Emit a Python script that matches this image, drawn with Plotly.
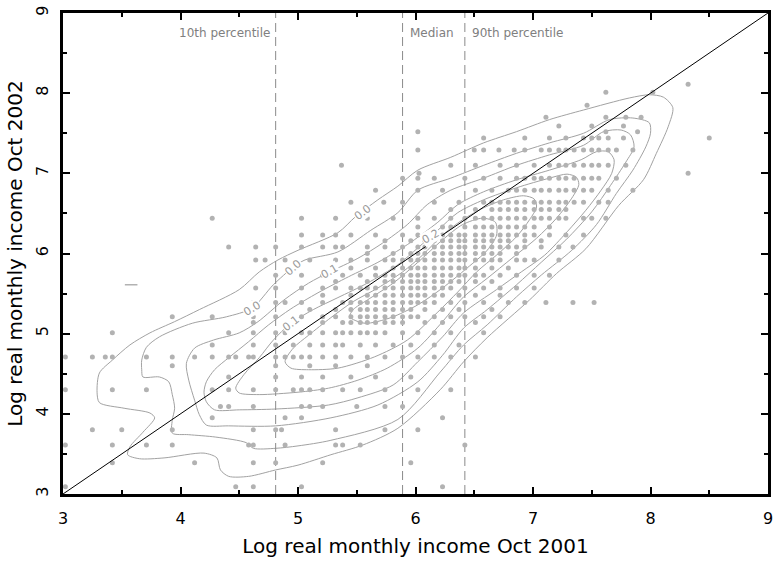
import plotly.graph_objects as go

# ---------------- data ----------------
percentile_names = ["10th percentile", "Median", "90th percentile"]
percentile_x = [4.81, 5.89, 6.42]

# scatter points: one x-list per income row (y value)
row_y = [3.09, 3.39, 3.61, 3.80, 3.95, 4.09, 4.30, 4.46, 4.60, 4.71, 4.86, 5.01, 5.14, 5.21,
         5.30, 5.39, 5.48, 5.57, 5.65, 5.73, 5.82, 5.92, 6.00, 6.08, 6.16, 6.23, 6.33, 6.44,
         6.55, 6.64, 6.79, 6.94, 7.00, 7.10, 7.29, 7.44, 7.52, 7.59, 7.70, 7.85, 8.01, 8.11]
row_x = [
    [3.02, 4.47, 4.62, 5.03, 6.23],
    [3.42, 4.12, 4.62, 4.81, 5.21, 5.96],
    [3.02, 3.42, 3.71, 3.93, 4.58, 4.62, 4.89, 5.32, 5.38, 5.53, 6.42],
    [3.25, 3.50, 3.93, 4.62, 4.81, 4.86, 5.32, 5.74, 6.02],
    [4.27, 4.89, 5.03, 6.23],
    [4.34, 4.41, 4.62, 5.03, 5.10, 5.21, 5.50, 5.74, 5.89],
    [3.02, 3.42, 3.71, 4.27, 4.41, 4.62, 4.81, 4.96, 5.03, 5.10, 5.21, 5.38, 5.53, 5.74, 6.02, 6.30],
    [4.41, 4.81, 5.03, 5.21, 5.45, 5.66, 5.96],
    [3.93, 4.81, 5.10, 5.32, 5.59],
    [3.02, 3.25, 3.36, 3.42, 3.71, 3.93, 4.12, 4.27, 4.41, 4.47, 4.58, 4.62, 4.81, 4.89, 4.96, 5.03,
     5.10, 5.21, 5.32, 5.45, 5.59, 5.74, 5.89, 6.02, 6.16, 6.30, 6.51],
    [4.27, 4.62, 4.81, 4.96, 5.10, 5.21, 5.32, 5.38, 5.53, 5.66, 5.81, 5.96, 6.16, 6.37],
    [3.42, 4.41, 4.62, 4.81, 4.89, 5.03, 5.10, 5.21, 5.32, 5.38, 5.45, 5.53, 5.59, 5.66, 5.74, 5.89,
     6.02, 6.16, 6.30, 6.58],
    [4.62, 4.96, 5.21, 5.38, 5.45, 5.53, 5.59, 5.66, 5.74, 5.81, 5.89, 6.08, 6.23, 6.51],
    [3.93, 4.27, 4.62, 4.81, 5.03, 5.21, 5.32, 5.45, 5.53, 5.59, 5.66, 5.74, 5.81, 5.89, 5.96, 6.02,
     6.16, 6.30, 6.42, 6.58, 6.72],
    [5.10, 5.32, 5.45, 5.53, 5.59, 5.66, 5.74, 5.81, 5.89, 5.96, 6.08, 6.23, 6.37, 6.65],
    [4.62, 4.81, 4.89, 5.03, 5.21, 5.38, 5.45, 5.53, 5.59, 5.66, 5.74, 5.81, 5.89, 5.96, 6.02, 6.08,
     6.16, 6.30, 6.42, 6.58, 6.79, 6.93, 7.11, 7.34, 7.52],
    [5.21, 5.45, 5.59, 5.66, 5.74, 5.81, 5.89, 5.96, 6.02, 6.08, 6.16, 6.23, 6.37, 6.51, 6.72],
    [4.64, 4.81, 5.03, 5.21, 5.32, 5.45, 5.53, 5.59, 5.66, 5.74, 5.81, 5.89, 5.96, 6.02, 6.08, 6.16,
     6.23, 6.30, 6.42, 6.58, 6.72, 6.86, 7.01],
    [5.32, 5.59, 5.74, 5.81, 5.89, 5.96, 6.02, 6.08, 6.16, 6.23, 6.30, 6.37, 6.51, 6.65],
    [4.81, 5.03, 5.21, 5.38, 5.53, 5.66, 5.74, 5.81, 5.89, 5.96, 6.02, 6.08, 6.16, 6.23, 6.30, 6.37,
     6.42, 6.51, 6.58, 6.72, 6.86, 7.01, 7.14],
    [5.45, 5.66, 5.81, 5.89, 5.96, 6.02, 6.08, 6.16, 6.23, 6.30, 6.37, 6.42, 6.51, 6.65, 6.79],
    [4.64, 4.72, 4.89, 5.10, 5.32, 5.45, 5.59, 5.74, 5.81, 5.89, 5.96, 6.02, 6.08, 6.16, 6.23, 6.30,
     6.37, 6.42, 6.51, 6.58, 6.65, 6.72, 6.86, 6.93, 7.01, 7.22],
    [5.59, 5.81, 5.96, 6.02, 6.08, 6.16, 6.23, 6.30, 6.37, 6.42, 6.51, 6.58, 6.65, 6.72, 6.86],
    [4.41, 4.64, 4.81, 5.03, 5.21, 5.32, 5.38, 5.59, 5.74, 5.89, 6.02, 6.08, 6.16, 6.23, 6.30, 6.37,
     6.42, 6.51, 6.58, 6.65, 6.72, 6.79, 6.86, 6.93, 7.07, 7.22, 7.34],
    [5.74, 5.96, 6.08, 6.16, 6.23, 6.30, 6.37, 6.42, 6.51, 6.58, 6.65, 6.72, 6.79, 6.93, 7.07],
    [5.03, 5.21, 5.32, 5.45, 5.66, 5.89, 6.02, 6.16, 6.23, 6.30, 6.37, 6.42, 6.51, 6.58, 6.65, 6.72,
     6.79, 6.86, 6.93, 7.01, 7.14, 7.28, 7.43],
    [6.02, 6.23, 6.30, 6.42, 6.51, 6.58, 6.65, 6.72, 6.79, 6.86, 6.93, 7.01, 7.14],
    [4.27, 5.03, 5.32, 5.59, 5.81, 6.02, 6.16, 6.30, 6.42, 6.51, 6.58, 6.65, 6.72, 6.79, 6.86, 6.93,
     7.01, 7.07, 7.14, 7.22, 7.28, 7.43, 7.50, 7.62],
    [6.30, 6.51, 6.65, 6.72, 6.79, 6.86, 6.93, 7.01, 7.07, 7.14, 7.22, 7.28],
    [5.45, 5.73, 5.89, 6.16, 6.37, 6.58, 6.65, 6.72, 6.79, 6.86, 6.93, 7.01, 7.07, 7.14, 7.22, 7.28,
     7.35, 7.43, 7.56, 7.64],
    [5.66, 6.02, 6.23, 6.51, 6.65, 6.79, 6.86, 6.93, 7.01, 7.07, 7.14, 7.22, 7.28, 7.35, 7.43, 7.50,
     7.64, 7.85],
    [5.89, 6.02, 6.16, 6.42, 6.58, 6.72, 6.86, 6.93, 7.01, 7.07, 7.14, 7.22, 7.28, 7.35, 7.43, 7.50,
     7.56, 7.71],
    [6.03, 8.32],
    [5.37, 6.30, 6.51, 6.72, 6.86, 7.01, 7.14, 7.22, 7.28, 7.35, 7.43, 7.50, 7.56, 7.64, 7.79],
    [6.02, 6.50, 6.58, 6.71, 6.84, 6.93, 7.07, 7.14, 7.22, 7.28, 7.35, 7.43, 7.50, 7.56, 7.64, 7.71,
     7.85],
    [6.58, 6.93, 7.14, 7.28, 7.43, 7.50, 7.56, 7.64, 7.77, 8.50],
    [6.02, 7.62, 7.89],
    [7.22, 7.50, 7.77],
    [7.11, 7.62, 7.79, 7.92],
    [7.46],
    [7.62, 8.02],
    [8.32],
]
dash_mark_x = [3.58]
dash_mark_y = [5.61]

# density contour lines (outermost first), closed paths
contour_x = [
    [3.29, 3.31, 3.52, 3.74, 3.78, 3.68, 3.57, 3.55, 3.65, 3.86, 4.20, 4.31, 4.34, 4.41, 4.58, 4.81,
     5.00, 5.28, 5.55, 5.85, 6.21, 6.41, 6.61, 6.97, 7.20, 7.45, 7.73, 7.94, 8.05, 8.15, 8.19, 8.11,
     7.99, 7.82, 7.43, 7.14, 6.86, 6.58, 6.30, 6.02, 5.85, 5.68, 5.49, 5.34, 5.00, 4.83, 4.67, 4.50,
     4.16, 3.95, 3.74, 3.57, 3.42, 3.31, 3.29],
    [3.67, 3.68, 3.82, 3.90, 3.93, 3.95, 3.93, 3.93, 4.07, 4.30, 4.56, 4.62, 4.81, 5.00, 5.28, 5.85,
     6.21, 6.41, 6.61, 6.86, 7.07, 7.33, 7.54, 7.71, 7.85, 7.96, 8.00, 7.99, 7.85, 7.65, 7.43, 7.14,
     6.86, 6.58, 6.30, 6.02, 5.85, 5.62, 5.34, 5.06, 4.96, 4.79, 4.61, 4.39, 4.10, 3.82, 3.71, 3.67,
     3.67],
    [4.05, 4.07, 4.12, 4.16, 4.22, 4.41, 4.81, 5.28, 5.68, 6.02, 6.23, 6.41, 6.61, 6.86, 7.07, 7.28,
     7.50, 7.66, 7.79, 7.86, 7.83, 7.75, 7.60, 7.43, 7.14, 6.86, 6.58, 6.30, 6.10, 5.93, 5.72, 5.51,
     5.27, 5.09, 4.88, 4.66, 4.50, 4.28, 4.12, 4.05],
    [4.20, 4.22, 4.29, 4.50, 4.81, 5.26, 5.51, 5.81, 6.02, 6.23, 6.41, 6.69, 6.90, 7.10, 7.29, 7.45,
     7.58, 7.67, 7.69, 7.64, 7.54, 7.41, 7.14, 6.86, 6.58, 6.36, 6.19, 5.93, 5.68, 5.43, 5.17, 4.94,
     4.75, 4.58, 4.41, 4.29, 4.22, 4.20],
    [4.47, 4.50, 4.67, 5.00, 5.26, 5.51, 5.76, 6.02, 6.23, 6.41, 6.61, 6.82, 7.03, 7.20, 7.33, 7.39,
     7.37, 7.29, 7.14, 6.86, 6.58, 6.36, 6.19, 6.02, 5.85, 5.59, 5.34, 5.13, 4.94, 4.79, 4.67, 4.54,
     4.47],
    [4.89, 4.94, 5.09, 5.34, 5.65, 5.93, 6.19, 6.36, 6.52, 6.69, 6.86, 6.97, 7.03, 7.01, 6.92, 6.75,
     6.58, 6.40, 6.23, 6.06, 5.89, 5.68, 5.47, 5.28, 5.09, 4.96, 4.89],
    [5.44, 5.57, 5.79, 6.02, 6.23, 6.44, 6.61, 6.69, 6.68, 6.57, 6.40, 6.23, 6.02, 5.81, 5.59, 5.47,
     5.44],
]
contour_y = [
    [4.27, 4.14, 4.07, 4.01, 3.95, 3.77, 3.59, 3.49, 3.44, 3.45, 3.51, 3.45, 3.30, 3.22, 3.22, 3.30,
     3.36, 3.49, 3.61, 3.82, 4.30, 4.65, 4.95, 5.42, 5.75, 6.06, 6.60, 6.92, 7.25, 7.58, 7.82, 7.95,
     7.98, 7.94, 7.79, 7.67, 7.52, 7.38, 7.20, 7.04, 6.84, 6.67, 6.46, 6.26, 6.04, 5.92, 5.77, 5.55,
     5.30, 5.15, 5.01, 4.86, 4.67, 4.51, 4.27],
    [4.55, 4.46, 4.46, 4.40, 4.24, 4.07, 3.92, 3.76, 3.74, 3.71, 3.64, 3.57, 3.57, 3.60, 3.67, 3.93,
     4.52, 4.86, 5.11, 5.46, 5.73, 6.04, 6.36, 6.75, 7.04, 7.33, 7.50, 7.63, 7.69, 7.67, 7.50, 7.38,
     7.25, 7.10, 6.94, 6.79, 6.51, 6.29, 6.02, 5.92, 5.83, 5.61, 5.32, 5.21, 5.13, 4.96, 4.83, 4.67,
     4.55],
    [4.63, 4.42, 4.17, 3.99, 3.86, 3.85, 3.85, 3.95, 4.11, 4.40, 4.73, 5.07, 5.30, 5.61, 5.89, 6.17,
     6.52, 6.85, 7.14, 7.33, 7.48, 7.54, 7.52, 7.35, 7.23, 7.10, 6.94, 6.79, 6.61, 6.36, 6.13, 5.94,
     5.77, 5.63, 5.42, 5.15, 5.01, 4.92, 4.82, 4.63],
    [4.27, 4.15, 4.05, 4.05, 4.06, 4.11, 4.20, 4.36, 4.65, 4.96, 5.26, 5.55, 5.77, 5.98, 6.27, 6.54,
     6.79, 7.00, 7.17, 7.27, 7.27, 7.17, 7.04, 6.92, 6.77, 6.61, 6.39, 6.11, 5.89, 5.71, 5.51, 5.31,
     5.11, 4.90, 4.70, 4.55, 4.40, 4.27],
    [4.32, 4.26, 4.24, 4.27, 4.32, 4.42, 4.57, 4.82, 5.15, 5.46, 5.69, 5.94, 6.19, 6.44, 6.69, 6.86,
     6.95, 6.99, 6.94, 6.82, 6.67, 6.51, 6.29, 6.07, 5.86, 5.63, 5.45, 5.30, 5.13, 4.92, 4.70, 4.49,
     4.32],
    [4.65, 4.57, 4.55, 4.57, 4.71, 4.92, 5.27, 5.52, 5.77, 5.98, 6.21, 6.42, 6.58, 6.68, 6.72, 6.67,
     6.57, 6.42, 6.23, 5.98, 5.77, 5.57, 5.40, 5.20, 4.98, 4.82, 4.65],
    [5.21, 5.13, 5.20, 5.36, 5.57, 5.82, 6.04, 6.23, 6.39, 6.44, 6.36, 6.17, 5.89, 5.63, 5.42, 5.30,
     5.21],
]

# contour labels (text, x, y, angle)
label_text = ["0.0", "0.0", "0.0", "0.1", "0.1", "0.2"]
label_x = [5.55, 4.96, 4.61, 5.27, 4.94, 6.13]
label_y = [6.51, 5.83, 5.32, 5.77, 5.13, 6.21]
label_angle = [-38, -42, -32, -30, -38, -30]

# ---------------- figure ----------------
FONT = "DejaVu Sans"
GREY_PT = "#b2b2b2"
GREY_LN = "#a2a2a2"
GREY_DASH = "#8a8a8a"

pts_x, pts_y = [], []
for yv, xs in zip(row_y, row_x):
    for xv in xs:
        pts_x.append(xv)
        pts_y.append(yv)

fig = go.Figure()

for cx, cy in zip(contour_x, contour_y):
    fig.add_trace(go.Scatter(x=cx, y=cy, mode="lines",
                             line=dict(color=GREY_LN, width=1, shape="spline", smoothing=0.8),
                             hoverinfo="skip", showlegend=False))

for px_ in percentile_x:
    fig.add_trace(go.Scatter(x=[px_, px_], y=[3, 9], mode="lines",
                             line=dict(color=GREY_DASH, width=1, dash="9px,5px"),
                             hoverinfo="skip", showlegend=False))

fig.add_trace(go.Scatter(x=pts_x, y=pts_y, mode="markers",
                         marker=dict(size=5, color=GREY_PT, line=dict(width=0)),
                         showlegend=False))
fig.add_trace(go.Scatter(x=dash_mark_x, y=dash_mark_y, mode="markers",
                         marker=dict(symbol="line-ew", size=9, line=dict(color=GREY_PT, width=1.5)),
                         showlegend=False))

fig.add_trace(go.Scatter(x=[3, 9], y=[3, 9], mode="lines",
                         line=dict(color="black", width=1), hoverinfo="skip", showlegend=False))

annotations = []
for t, lx, ly, ang in zip(label_text, label_x, label_y, label_angle):
    annotations.append(dict(x=lx, y=ly, text=t, showarrow=False, textangle=ang,
                            font=dict(family=FONT, size=11, color="#999999"),
                            bgcolor="white", borderpad=0))
for name, px_ in zip(percentile_names, percentile_x):
    left = name != "10th percentile"
    annotations.append(dict(x=px_, y=8.75, text=name, showarrow=False,
                            xanchor="left" if left else "right",
                            xshift=5 if left else -4,
                            font=dict(family=FONT, size=12, color="#808080")))

axis_common = dict(range=[3, 9], showline=True, linewidth=3, linecolor="black", mirror="ticks",
                   ticks="inside", ticklen=7, tickwidth=2, tickcolor="black",
                   tickmode="array", tickvals=[3, 4, 5, 6, 7, 8, 9],
                   minor=dict(ticks="inside", ticklen=4, tickwidth=1.5, tickcolor="black",
                              tickmode="array", tickvals=[3.5, 4.5, 5.5, 6.5, 7.5, 8.5]),
                   showgrid=False, zeroline=False,
                   tickfont=dict(family=FONT, size=16, color="black"))

fig.update_layout(
    width=778, height=561,
    margin=dict(l=63, r=5, t=13, b=67),
    paper_bgcolor="white", plot_bgcolor="white",
    annotations=annotations,
    xaxis=dict(**axis_common, ticklabelstandoff=8,
               title=dict(text="Log real monthly income Oct 2001",
                          font=dict(family=FONT, size=20, color="black"), standoff=12)),
    yaxis=dict(**axis_common, tickangle=-90, ticklabelstandoff=6,
               title=dict(text="Log real monthly income Oct 2002",
                          font=dict(family=FONT, size=20, color="black"), standoff=5)),
)

fig.write_html("out.html")
